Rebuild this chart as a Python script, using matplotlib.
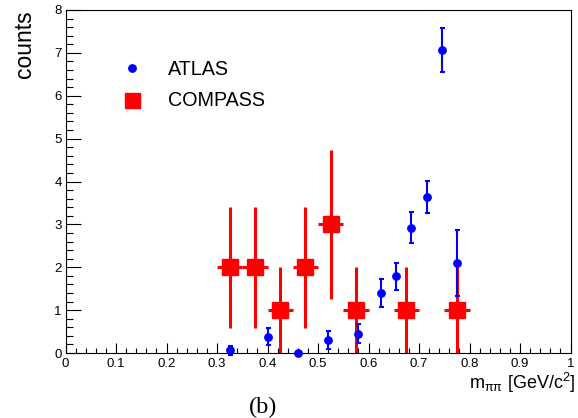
#!/usr/bin/env python3

import matplotlib
matplotlib.use("Agg")
import matplotlib.pyplot as plt
from matplotlib.lines import Line2D
from matplotlib.ticker import MultipleLocator

plt.rcParams['font.family'] = ['Liberation Sans', 'DejaVu Sans']
plt.rcParams['mathtext.fontset'] = 'custom'
plt.rcParams['mathtext.rm'] = 'Liberation Sans'
plt.rcParams['mathtext.it'] = 'Liberation Sans:italic'

# ATLAS points
atlas_x = [0.325, 0.40, 0.46, 0.52, 0.58, 0.625, 0.655, 0.685, 0.715, 0.745, 0.775]
atlas_y = [0.06, 0.38, 0.0, 0.30, 0.45, 1.40, 1.79, 2.92, 3.64, 7.07, 2.10]
atlas_err = [0.11, 0.20, 0.0, 0.21, 0.22, 0.33, 0.32, 0.36, 0.37, 0.52, 0.77]

# COMPASS bins
compass_x = [0.325, 0.375, 0.425, 0.475, 0.525, 0.575, 0.675, 0.775]
compass_y = [2, 2, 1, 2, 3, 1, 1, 1]
compass_yerr = [1.41, 1.41, 1.0, 1.41, 1.73, 1.0, 1.0, 1.0]
compass_xerr = [0.025, 0.025, 0.025, 0.025, 0.025, 0.025, 0.025, 0.025]

BLUE = '#0000ff'
RED = '#ff0000'

fig = plt.figure(figsize=(5.78, 4.18), dpi=100)
ax = fig.add_axes([65.5 / 578, 65 / 418, 505 / 578, 343 / 418])

ax.errorbar(compass_x, compass_y, yerr=compass_yerr, xerr=compass_xerr,
            fmt='s', color=RED, ms=11.5, elinewidth=2.2, capsize=0,
            zorder=2)
ax.errorbar(atlas_x, atlas_y, yerr=atlas_err, fmt='o', color=BLUE,
            ms=5.3, elinewidth=1.5, capsize=1.8, capthick=1.5,
            zorder=3, clip_on=False)

ax.set_xlim(0, 1)
ax.set_ylim(0, 8)
ax.xaxis.set_major_locator(MultipleLocator(0.1))
ax.xaxis.set_minor_locator(MultipleLocator(0.02))
ax.yaxis.set_major_locator(MultipleLocator(1))
ax.yaxis.set_minor_locator(MultipleLocator(0.2))
ax.xaxis.set_major_formatter(plt.FuncFormatter(lambda v, p: '%g' % round(v, 2)))

ax.tick_params(axis='both', which='both', direction='in', top=False,
               right=False, width=0.8, labelsize=9.5)
ax.tick_params(axis='x', which='major', length=7.2, pad=3.6)
ax.tick_params(axis='x', which='minor', length=3.6)
ax.tick_params(axis='y', which='major', length=10.6, pad=2.7)
ax.tick_params(axis='y', which='minor', length=5)
for s in ax.spines.values():
    s.set_linewidth(0.8)

ax.set_ylabel('counts', fontsize=16.5, loc='top')
ax.yaxis.set_label_coords(-0.058, 1.0)
ax.set_xlabel(r'm$_{\mathrm{\pi\pi}}$ [GeV/c$^{2}$]', fontsize=13,
              loc='right')
ax.xaxis.set_label_coords(1.009, -0.052)

handles = [Line2D([], [], marker='o', ls='none', color=BLUE, ms=5.3),
           Line2D([], [], marker='s', ls='none', color=RED, ms=10.8)]
ax.legend(handles, ['ATLAS', 'COMPASS'], loc='upper left',
          bbox_to_anchor=(0.057, 0.907), frameon=False, fontsize=14.2,
          handletextpad=0.85, labelspacing=0.65, borderpad=0.4)

fig.text(263 / 578, 0.0108, '(b)', family='Liberation Serif', fontsize=17.5,
         ha='center', va='baseline')

fig.savefig('out.png', dpi=100)
